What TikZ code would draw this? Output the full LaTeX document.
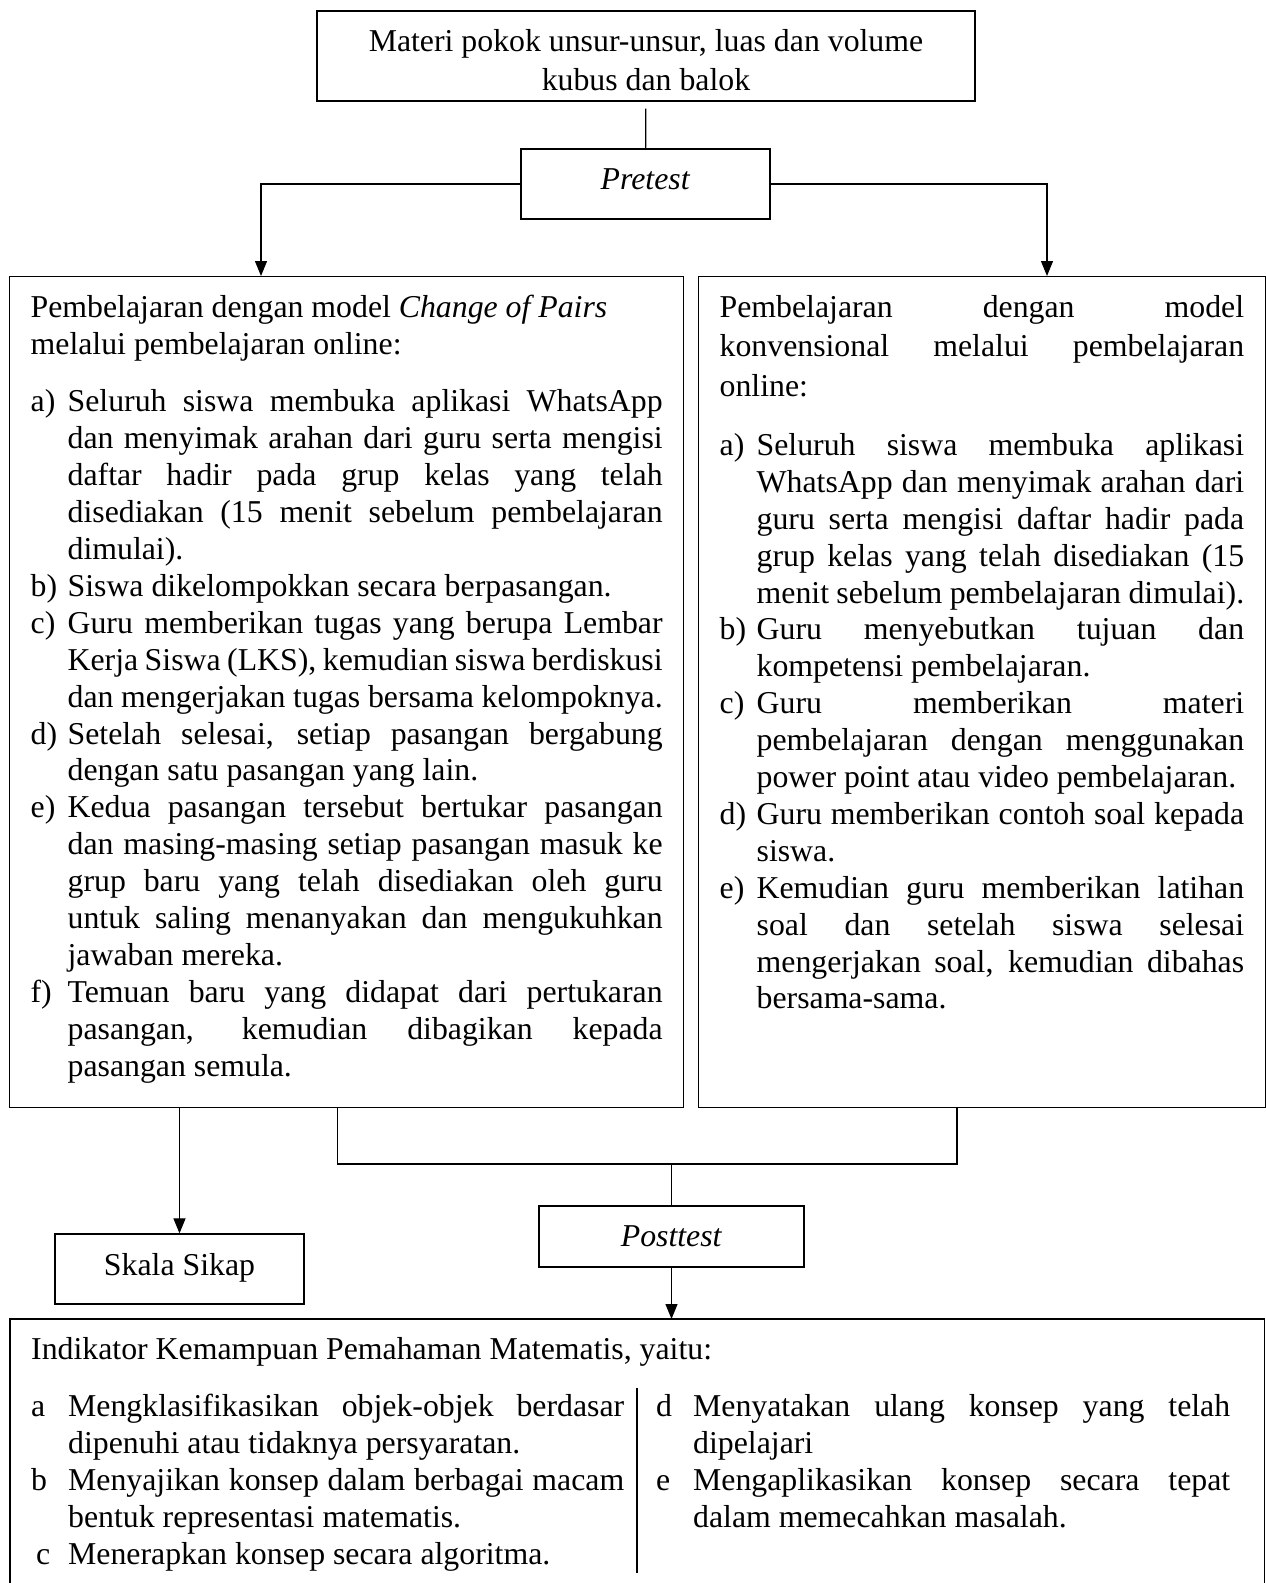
\documentclass[tikz,border=0pt]{standalone}
\usepackage{fontspec}
\setmainfont{Liberation Serif}
\usetikzlibrary{arrows.meta}

\setlength{\parindent}{0pt}
\tolerance=10000
\hyphenpenalty=10000
\exhyphenpenalty=10000
\newcommand{\awal}{\rule{0pt}{40.5pt}}
\newcommand{\butir}[2]{\par\hangindent=37pt\hangafter=1\noindent\makebox[37pt][l]{#1}#2\par}

\begin{document}
\begin{tikzpicture}[x=1pt, y=-1pt,
    kotak/.style={draw, line width=1.3pt, inner sep=0pt},
    kolom/.style={anchor=north west, inner xsep=21pt, inner ysep=0pt},
    garis/.style={line width=1.2pt},
    panah/.style={garis, -{Triangle[width=12pt,length=15pt]}},
    font=\fontsize{31.8}{36.9}\selectfont]

  \useasboundingbox (0,0) rectangle (1266,1583);

  % kotak-kotak
  \node[kotak, minimum width=658pt, minimum height=90pt, align=center,
        font=\fontsize{31.8}{39}\selectfont] (materi) at (646,56)
    {\rule{0pt}{30pt}Materi pokok unsur-unsur, luas dan volume\\kubus dan balok};
  \node[kotak, minimum width=249pt, minimum height=70pt, text depth=10pt]
    (pretest) at (645.5,184) {\textit{Pretest}};

  \node[kotak, kolom] (kiri) at (9,276) {\begin{minipage}[t][831pt][t]{632pt}
    \awal Pembelajaran dengan model \textit{Change of Pairs}\newline
    melalui pembelajaran online:\par
    \vspace{21pt}
    \butir{a)}{Seluruh siswa membuka aplikasi WhatsApp\linebreak
      dan menyimak arahan dari guru serta mengisi\linebreak
      daftar hadir pada grup kelas yang telah\linebreak
      disediakan (15 menit sebelum pembelajaran\linebreak dimulai).}
    \butir{b)}{Siswa dikelompokkan secara berpasangan.}
    \butir{c)}{Guru memberikan tugas yang berupa Lembar\linebreak
      Kerja Siswa (LKS), kemudian siswa berdiskusi\linebreak
      dan mengerjakan tugas bersama kelompoknya.}
    \butir{d)}{Setelah selesai, setiap pasangan bergabung\linebreak
      dengan satu pasangan yang lain.}
    \butir{e)}{Kedua pasangan tersebut bertukar pasangan\linebreak
      dan masing-masing setiap pasangan masuk ke\linebreak
      grup baru yang telah disediakan oleh guru\linebreak
      untuk saling menanyakan dan mengukuhkan\linebreak jawaban mereka.}
    \butir{f)}{Temuan baru yang didapat dari pertukaran\linebreak
      pasangan, kemudian dibagikan kepada\linebreak pasangan semula.}
  \end{minipage}};

  \node[kotak, kolom] (kanan) at (698,276) {\begin{minipage}[t][831pt][t]{524.5pt}
    {\fontsize{31.8}{39.7}\selectfont\awal Pembelajaran dengan model\linebreak
    konvensional melalui pembelajaran\linebreak online:\par}
    \vspace{22pt}
    \butir{a)}{Seluruh siswa membuka aplikasi\linebreak
      WhatsApp dan menyimak arahan dari\linebreak
      guru serta mengisi daftar hadir pada\linebreak
      grup kelas yang telah disediakan (15\linebreak
      menit sebelum pembelajaran dimulai).}
    \butir{b)}{Guru menyebutkan tujuan dan\linebreak kompetensi pembelajaran.}
    \butir{c)}{Guru memberikan materi\linebreak
      pembelajaran dengan menggunakan\linebreak
      power point atau video pembelajaran.}
    \butir{d)}{Guru memberikan contoh soal kepada\linebreak siswa.}
    \butir{e)}{Kemudian guru memberikan latihan\linebreak
      soal dan setelah siswa selesai\linebreak
      mengerjakan soal, kemudian dibahas\linebreak bersama-sama.}
  \end{minipage}};

  \node[kotak, minimum width=249pt, minimum height=70pt, text depth=10pt]
    (skala) at (179.5,1269) {Skala Sikap};
  \node[kotak, minimum width=265pt, minimum height=61pt]
    (posttest) at (671.5,1236.5) {\textit{Posttest}};

  \node[kolom] (indikator) at (10,1319) {\begin{minipage}[t][272pt][t]{1212pt}
    \awal Indikator Kemampuan Pemahaman Matematis, yaitu:\par
    \vspace{20pt}
    \noindent\begin{minipage}[t]{593pt}
      \butir{a}{Mengklasifikasikan objek-objek berdasar\linebreak
        dipenuhi atau tidaknya persyaratan.}
      \butir{b}{Menyajikan konsep dalam berbagai macam\linebreak
        bentuk representasi matematis.}
      \butir{\hspace{5pt}c}{Menerapkan konsep secara algoritma.}
    \end{minipage}\hspace{32pt}%
    \begin{minipage}[t]{574pt}
      \butir{d}{Menyatakan ulang konsep yang telah\linebreak dipelajari}
      \butir{e}{Mengaplikasikan konsep secara tepat\linebreak
        dalam memecahkan masalah.}
    \end{minipage}
  \end{minipage}};
  \draw[line width=1.3pt] (indikator.south west) |- (indikator.north east)
    -- (indikator.south east);
  \draw[garis] (637,1388) -- (637,1573);

  % penghubung
  \coordinate (kiriIn) at (261,276);
  \coordinate (kananIn) at (1047,276);
  \coordinate (gabung) at (671.5,1164);

  \draw[garis, shorten <=7pt] (materi) -- (pretest);
  \foreach \t in {kiriIn, kananIn}
    \draw[panah] (pretest) -| (\t);
  \draw[panah] (kiri.south -| skala.north) -- (skala.north);
  \draw[garis] ([xshift=-9pt]kiri.south) |- (gabung)
    -| ([xshift=-25pt]kanan.south);
  \draw[garis] (gabung) -- (posttest.north);
  \draw[panah] (posttest.south) -- (posttest.south |- indikator.north);

\end{tikzpicture}
\end{document}
